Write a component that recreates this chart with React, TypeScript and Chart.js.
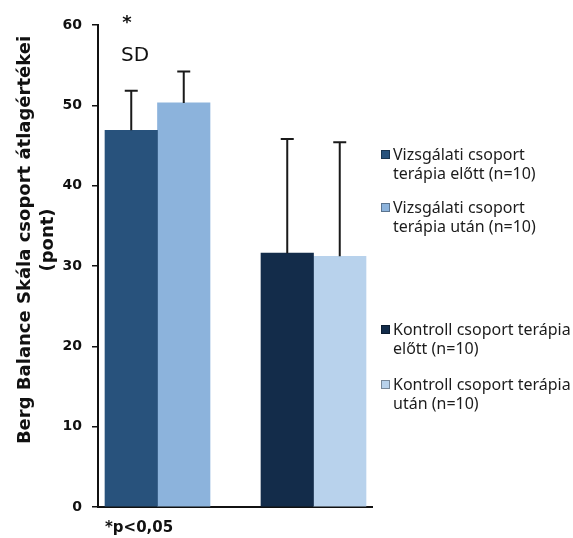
import React, { useEffect, useRef } from 'react';
import { Chart, registerables } from 'chart.js';

Chart.register(...registerables);

// ---- data ----
const groups = ['Vizsgálati csoport', 'Kontroll csoport'];
const seriesLabelLines = [
  ['Vizsgálati csoport', 'terápia előtt (n=10)'],
  ['Vizsgálati csoport', 'terápia után (n=10)'],
  ['Kontroll csoport terápia', 'előtt (n=10)'],
  ['Kontroll csoport terápia', 'után (n=10)'],
];
const seriesGroup = [0, 0, 1, 1];
const means = [46.9, 50.3, 31.6, 31.2];
const sds = [4.9, 3.9, 14.2, 14.2];
const seriesColors = ['#28527c', '#8cb3dc', '#132c4a', '#b8d2ec'];
const yMin = 0;
const yMax = 60;
const yStep = 10;
const yTitleLines = ['Berg Balance Skála csoport átlagértékei', '(pont)'];
const starText = '*';
const sdText = 'SD';
const noteText = '*p<0,05';

const decorPlugin = {
  id: 'decor',
  afterDatasetsDraw(chart: any) {
    const ctx = chart.ctx;
    const y = chart.scales.y;
    chart.data.datasets.forEach((ds: any, i: number) => {
      const meta = chart.getDatasetMeta(i);
      meta.data.forEach((el: any, j: number) => {
        const v = ds.data[j];
        if (v === null || v === undefined) return;
        const top = y.getPixelForValue(means[i] + sds[i]);
        const base = el.y;
        const cx = el.x;
        ctx.save();
        ctx.strokeStyle = '#1a1a1a';
        ctx.lineWidth = 2;
        ctx.beginPath();
        ctx.moveTo(cx, base);
        ctx.lineTo(cx, top);
        ctx.moveTo(cx - 6.5, top);
        ctx.lineTo(cx + 6.5, top);
        ctx.stroke();
        ctx.restore();
      });
    });
  },
  afterDraw(chart: any) {
    const ctx = chart.ctx;
    const area = chart.chartArea;
    ctx.save();
    ctx.fillStyle = '#111';
    // y title
    ctx.save();
    ctx.translate(25, (area.top + area.bottom) / 2 - 26);
    ctx.rotate(-Math.PI / 2);
    ctx.font = 'bold 18px "DejaVu Sans"';
    ctx.textAlign = 'center';
    ctx.textBaseline = 'middle';
    yTitleLines.forEach((t, k) => ctx.fillText(t, 0, k * 23));
    ctx.restore();

    // annotations
    ctx.textAlign = 'center';
    ctx.textBaseline = 'middle';
    ctx.font = 'bold 18px "DejaVu Sans"';
    ctx.fillText(starText, area.left + 29, area.top - 2);
    ctx.font = '20px "DejaVu Sans"';
    ctx.fillText(sdText, area.left + 37, area.top + 31);
    ctx.textAlign = 'left';
    ctx.font = 'bold 15px "DejaVu Sans"';
    ctx.fillText(noteText, area.left + 7, area.bottom + 21);

    // legend
    const legendX = area.right + 9;
    const itemTops = [155, 208, 330, 385];
    ctx.font = '16px "Noto Sans"';
    ctx.textBaseline = 'middle';
    seriesLabelLines.forEach((lines, i) => {
      const ty = itemTops[i];
      ctx.fillStyle = seriesColors[i];
      ctx.fillRect(legendX, ty - 5, 9, 9);
      ctx.strokeStyle = 'rgba(0,0,0,0.35)';
      ctx.lineWidth = 1;
      ctx.strokeRect(legendX + 0.5, ty - 4.5, 8, 8);
      ctx.fillStyle = '#1c1c1c';
      lines.forEach((l, k) => ctx.fillText(l, legendX + 12, ty + k * 19));
    });
    ctx.restore();
  },
};

export default function App() {
  const ref = useRef<HTMLCanvasElement>(null);
  useEffect(() => {
    if (!ref.current) return;
    const datasets = seriesLabelLines.map((lines, s) => ({
      label: lines.join(' '),
      data: groups.map((g, gi) => (seriesGroup[s] === gi ? means[s] : null)),
      backgroundColor: seriesColors[s],
      borderWidth: 0,
      barThickness: 52.5,
      skipNull: true,
    }));
    const chart = new Chart(ref.current, {
      type: 'bar',
      data: { labels: groups, datasets } as any,
      options: {
        animation: false,
        responsive: false,
        devicePixelRatio: 1,
        layout: { padding: { left: 0, top: 25, right: 201, bottom: 31 } },
        plugins: { legend: { display: false }, tooltip: { enabled: false } },
        scales: {
          x: {
            type: 'category',
            offset: true,
            ticks: { display: false },
            grid: { display: false, drawTicks: false },
            border: { display: true, color: '#111', width: 2 },
            afterBuildTicks: (s: any) => {
              // place group centres so the plotted groups sit as in the source figure
              s._startValue = -0.3814;
              s._valueRange = 1.7564;
            },
            afterFit: (s: any) => {
              s.height = 0;
            },
          },
          y: {
            min: yMin,
            max: yMax,
            ticks: {
              stepSize: yStep,
              color: '#111',
              padding: 10,
              font: { family: '"DejaVu Sans"', size: 14, weight: 'bold' },
            },
            grid: { drawOnChartArea: false, drawTicks: true, tickLength: 6, color: '#111', lineWidth: 1.5 },
            border: { display: true, color: '#111', width: 2 },
            afterFit: (s: any) => {
              s.width = 98;
            },
          },
        },
      } as any,
      plugins: [decorPlugin],
    });
    return () => chart.destroy();
  }, []);
  return (
    <div style={{ position: 'fixed', left: 0, top: 0, width: 573, height: 538, background: '#fff' }}>
      <canvas ref={ref} width={573} height={538} style={{ display: 'block' }} />
    </div>
  );
}
